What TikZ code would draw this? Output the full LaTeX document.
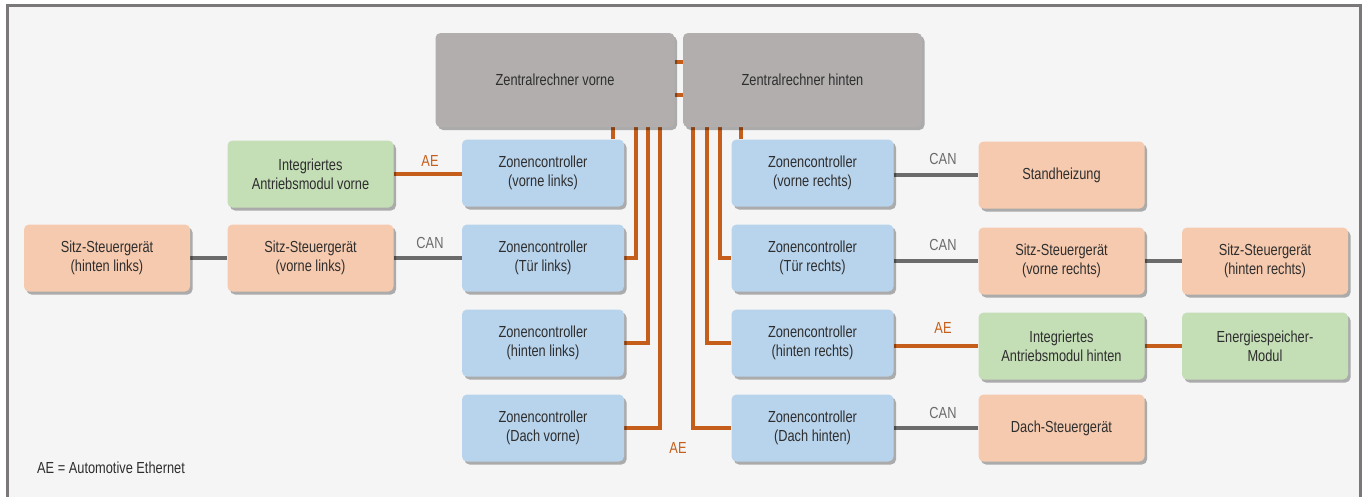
\documentclass[tikz,border=0pt]{standalone}
\usepackage{fontspec}
\setmainfont[FakeStretch=0.8]{Liberation Sans}
\usetikzlibrary{shadows,backgrounds,calc}
\definecolor{bggray}{HTML}{F5F5F5}
\definecolor{framegray}{HTML}{7A7878}
\definecolor{zgray}{HTML}{B1AEAD}
\definecolor{zblue}{HTML}{B8D3EC}
\definecolor{zgreen}{HTML}{C4DEB6}
\definecolor{zsalmon}{HTML}{F6CAAF}
\definecolor{aeorange}{HTML}{C65E1B}
\definecolor{cangray}{HTML}{6B6B6B}
\definecolor{txt}{HTML}{2E2E2E}
\tikzset{
  box/.style={rounded corners=5pt, minimum height=67pt, inner sep=2pt, align=center,
    text=txt, font=\fontsize{16}{19}\selectfont,
    drop shadow={shadow xshift=2.5pt, shadow yshift=-3pt, fill=black, opacity=0.3}},
  central/.style={box, fill=zgray, minimum width=239pt, minimum height=94pt},
  zone/.style={box, fill=zblue, minimum width=162pt},
  ecu/.style={box, fill=zsalmon, minimum width=166pt},
  drive/.style={box, fill=zgreen, minimum width=166pt},
  aeline/.style={draw=aeorange, line width=3.6pt},
  canline/.style={draw=cangray, line width=3.4pt},
  aelabel/.style={text=aeorange, font=\fontsize{16}{19}\selectfont, inner sep=0pt},
  canlabel/.style={text=cangray, font=\fontsize{16}{19}\selectfont, inner sep=0pt}
}
\begin{document}
\begin{tikzpicture}[x=1pt,y=-1pt]
\useasboundingbox (0,0) rectangle (1365,496);

% central computers
\node[central] (zv) at (555,80) {Zentralrechner vorne};
\node[central] (zh) at (802.5,80) {Zentralrechner hinten};

% zone controllers left
\node[zone] (zvl) at (543,173) {Zonencontroller\\(vorne links)};
\node[zone] (ztl) at (543,258) {Zonencontroller\\(Tür links)};
\node[zone] (zhl) at (543,343) {Zonencontroller\\(hinten links)};
\node[zone] (zdv) at (543,428) {Zonencontroller\\(Dach vorne)};
% zone controllers right
\node[zone] (zvr) at (812.5,173) {Zonencontroller\\(vorne rechts)};
\node[zone] (ztr) at (812.5,258) {Zonencontroller\\(Tür rechts)};
\node[zone] (zhr) at (812.5,343) {Zonencontroller\\(hinten rechts)};
\node[zone] (zdh) at (812.5,428) {Zonencontroller\\(Dach hinten)};

% left modules
\node[drive] (iav) at (310.5,174) {Integriertes\\Antriebsmodul vorne};
\node[ecu] (ssvl) at (310.5,258) {Sitz-Steuergerät\\(vorne links)};
\node[ecu] (sshl) at (107,258) {Sitz-Steuergerät\\(hinten links)};

% right modules
\node[ecu] (sth) at (1061.5,175) {Standheizung};
\node[ecu] (ssvr) at (1061.5,261) {Sitz-Steuergerät\\(vorne rechts)};
\node[ecu] (sshr) at (1265,261) {Sitz-Steuergerät\\(hinten rechts)};
\node[drive] (iah) at (1061.5,346) {Integriertes\\Antriebsmodul hinten};
\node[drive] (esm) at (1265,346) {Energiespeicher-\\Modul};
\node[ecu] (dst) at (1061.5,428) {Dach-Steuergerät};

% x positions of trunk lines
\coordinate (xa) at (613,0);
\coordinate (xb) at (636,0);
\coordinate (xc) at (648,0);
\coordinate (xd) at (660,0);
\coordinate (xe) at (693,0);
\coordinate (xf) at (707,0);
\coordinate (xg) at (720,0);
\coordinate (xh) at (741,0);
\coordinate (ya) at (0,62);
\coordinate (yb) at (0,95);

\begin{scope}[on background layer]
\fill[white] (0,0) rectangle (1365,496);
\draw[fill=bggray, draw=framegray, line width=3pt] (7,5) rectangle (1360,520);
% link between central computers
\draw[aeline] (zv.east |- ya) -- (zh.west |- ya);
\draw[aeline] (zv.east |- yb) -- (zh.west |- yb);
% trunk lines left
\draw[aeline] (zv.south -| xa) -- (zvl.north -| xa);
\draw[aeline] (zv.south -| xb) |- (ztl.east);
\draw[aeline] (zv.south -| xc) |- (zhl.east);
\draw[aeline] (zv.south -| xd) |- (zdv.east);
% trunk lines right
\draw[aeline] (zh.south -| xh) -- (zvr.north -| xh);
\draw[aeline] (zh.south -| xg) |- (ztr.west);
\draw[aeline] (zh.south -| xf) |- (zhr.west);
\draw[aeline] (zh.south -| xe) |- (zdh.west);
% left side
\draw[aeline] (iav.east) -- (zvl.west |- iav.east);
\draw[canline] (ssvl.east) -- (ztl.west |- ssvl.east);
\draw[canline] (sshl.east) -- (ssvl.west);
% right side
\draw[canline] (zvr.east |- sth.west) -- (sth.west);
\draw[canline] (ztr.east |- ssvr.west) -- (ssvr.west);
\draw[canline] (ssvr.east) -- (sshr.west);
\draw[aeline] (zhr.east |- iah.west) -- (iah.west);
\draw[aeline] (iah.east) -- (esm.west);
\draw[canline] (zdh.east |- dst.west) -- (dst.west);
\end{scope}

% labels
\node[aelabel] (l1) at (430,161) {AE};
\node[canlabel] (l2) at (430,243) {CAN};
\node[canlabel] (l3) at (943,159) {CAN};
\node[canlabel] (l4) at (943,245) {CAN};
\node[aelabel] (l5) at (943,328) {AE};
\node[canlabel] (l6) at (943,413) {CAN};
\node[aelabel] (l7) at (678,448) {AE};
\node[anchor=west, text=txt, font=\fontsize{16}{19}\selectfont, inner sep=0pt] (leg) at (37,468) {AE = Automotive Ethernet};
\end{tikzpicture}
\end{document}
